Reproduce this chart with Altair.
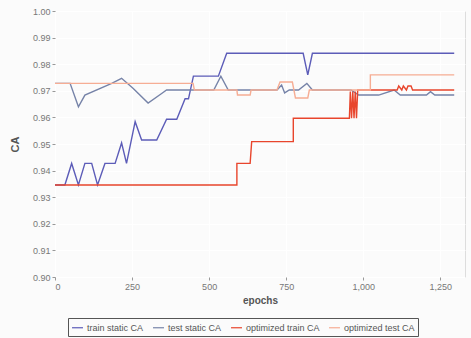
import altair as alt
import pandas as pd

series_names = ["train static CA", "test static CA", "optimized train CA", "optimized test CA"]
series_colors = ["#5c5cb8", "#7683a8", "#e8452c", "#f6ad94"]

train_static_epochs = [0, 32, 54, 76, 97, 119, 138, 162, 195, 216, 232, 260, 281, 330, 362, 395, 422, 433, 449, 530, 557, 805, 820, 835, 1295]
train_static_vals = [0.9346, 0.9346, 0.9427, 0.9346, 0.9427, 0.9427, 0.9346, 0.9427, 0.9427, 0.9504, 0.9427, 0.9584, 0.9515, 0.9515, 0.9593, 0.9593, 0.9670, 0.9670, 0.9755, 0.9755, 0.9841, 0.9841, 0.9760, 0.9841, 0.9841]

test_static_epochs = [0, 49, 76, 97, 184, 216, 253, 302, 346, 362, 515, 538, 562, 720, 735, 745, 760, 790, 817, 835, 960, 985, 1050, 1100, 1120, 1205, 1218, 1232, 1295]
test_static_vals = [0.9728, 0.9728, 0.9640, 0.9684, 0.9728, 0.9747, 0.9710, 0.9654, 0.9690, 0.9703, 0.9703, 0.9755, 0.9703, 0.9703, 0.9722, 0.9692, 0.9703, 0.9703, 0.9728, 0.9703, 0.9703, 0.9684, 0.9684, 0.9703, 0.9684, 0.9684, 0.9697, 0.9684, 0.9684]

opt_train_epochs = [0, 590, 590, 633, 638, 773, 773, 955, 958, 962, 966, 970, 974, 978, 982, 1110, 1115, 1125, 1130, 1140, 1145, 1155, 1160, 1295]
opt_train_vals = [0.9346, 0.9346, 0.9427, 0.9427, 0.9509, 0.9509, 0.9597, 0.9597, 0.9697, 0.9597, 0.9697, 0.9597, 0.9697, 0.9597, 0.9703, 0.9703, 0.9718, 0.9703, 0.9718, 0.9703, 0.9718, 0.9718, 0.9703, 0.9703]

opt_test_epochs = [0, 448, 452, 590, 592, 633, 636, 720, 730, 770, 775, 780, 820, 825, 1023, 1023, 1295]
opt_test_vals = [0.9728, 0.9728, 0.9703, 0.9703, 0.9684, 0.9684, 0.9703, 0.9703, 0.9733, 0.9733, 0.9703, 0.9673, 0.9673, 0.9703, 0.9703, 0.9760, 0.9760]

x_ticks = [0, 250, 500, 750, 1000, 1250]
y_ticks = [0.90, 0.91, 0.92, 0.93, 0.94, 0.95, 0.96, 0.97, 0.98, 0.99, 1.00]

rows = []
for name, eps, vals in zip(series_names,
                           [train_static_epochs, test_static_epochs, opt_train_epochs, opt_test_epochs],
                           [train_static_vals, test_static_vals, opt_train_vals, opt_test_vals]):
    for i, (e, v) in enumerate(zip(eps, vals)):
        rows.append({"series": name, "epoch": e, "CA": v, "idx": i})
df = pd.DataFrame(rows)

chart = alt.Chart(df).mark_line(strokeWidth=1.4).encode(
    x=alt.X("epoch:Q", title="epochs",
            scale=alt.Scale(domain=[0, 1330], nice=False, zero=False),
            axis=alt.Axis(values=x_ticks, format=",d", labelFontSize=9, labelColor="#777",
                          tickColor="#999", tickSize=3, domain=False, gridColor="#ffffff",
                          titleFontSize=10, titleFontWeight="bold", titleColor="#555",
                          titlePadding=4, labelPadding=2)),
    y=alt.Y("CA:Q", title="CA",
            scale=alt.Scale(domain=[0.90, 1.00], nice=False, zero=False),
            axis=alt.Axis(values=y_ticks, format=".2f", labelFontSize=9, labelColor="#777",
                          tickColor="#999", tickSize=3, domain=False, gridColor="#ffffff",
                          titleFontSize=11, titleFontWeight="bold", titleColor="#555",
                          titlePadding=12, labelPadding=2)),
    color=alt.Color("series:N",
                    scale=alt.Scale(domain=series_names, range=series_colors),
                    legend=alt.Legend(title=None, orient="none", direction="horizontal",
                                      legendX=13, legendY=307, symbolType="stroke",
                                      symbolSize=120, symbolStrokeWidth=1.2,
                                      labelFontSize=9, labelColor="#555",
                                      strokeColor="#555", padding=3, columnPadding=6,
                                      symbolOffset=0, labelOffset=3)),
    order=alt.Order("idx:Q"),
    detail="series:N",
).properties(
    width=410, height=266,
    padding={"left": 55, "top": 11, "right": 6, "bottom": 61},
    autosize=alt.AutoSizeParams(type="none"),
    background="#fbfbfb",
).configure_view(
    fill="#ebebeb", stroke=None
).configure_axis(
    gridWidth=1
).configure(font="Liberation Sans")

chart.save("out.html", embed_options={"renderer": "svg", "actions": False})
